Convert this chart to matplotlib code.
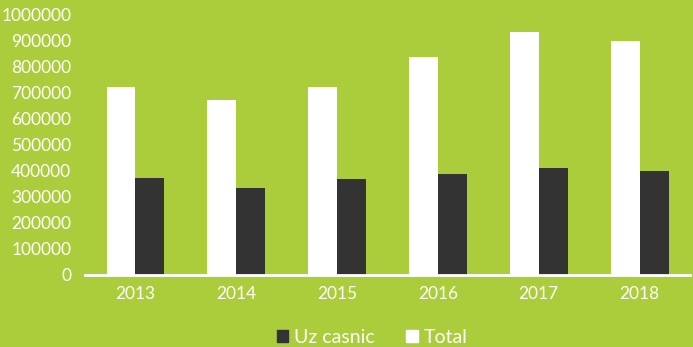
import matplotlib
matplotlib.use("Agg")

import numpy as np
import matplotlib.pyplot as plt
from matplotlib.patches import Patch
from matplotlib.ticker import StrMethodFormatter

years = ["2013", "2014", "2015", "2016", "2017", "2018"]
total = [722000, 673000, 722000, 840000, 935000, 900000]
uz_casnic = [372000, 336000, 368000, 388000, 410000, 400000]

bg = "#abcd3b"
dark = "#333333"

plt.rcParams["font.family"] = ["Lato", "DejaVu Sans"]

fig = plt.figure(figsize=(6.93, 3.47), dpi=100, facecolor=bg)
ax = fig.add_axes([0.1227, 0.2075, 0.8730, 0.7493], facecolor=bg)

x = np.arange(len(years))
w = 0.287
ax.bar(x - w / 2, total, width=w, color="white", label="Total")
ax.bar(x + w / 2, uz_casnic, width=w, color=dark, label="Uz casnic")

ax.set_xlim(-0.5, len(years) - 0.5)
ax.set_ylim(0, 1000000)
ax.set_yticks(np.arange(0, 1000001, 100000))
ax.yaxis.set_major_formatter(StrMethodFormatter("{x:.0f}"))
ax.set_xticks(x)
ax.set_xticklabels(years)

for side in ["top", "right", "left"]:
    ax.spines[side].set_visible(False)
ax.spines["bottom"].set_color("white")
ax.spines["bottom"].set_linewidth(2)

ax.tick_params(axis="both", length=0, colors="white", labelsize=12.5)
ax.tick_params(axis="x", pad=8)
ax.tick_params(axis="y", pad=10)

handles = [Patch(color=dark, label="Uz casnic"), Patch(color="white", label="Total")]
fig.legend(handles=handles, loc="center", bbox_to_anchor=(0.537, 0.027), ncol=2,
           frameon=False, fontsize=14, labelcolor="white",
           handlelength=0.6, handleheight=0.6, handletextpad=0.3, columnspacing=1.6)

fig.savefig("out.png", dpi=100, facecolor=bg)
